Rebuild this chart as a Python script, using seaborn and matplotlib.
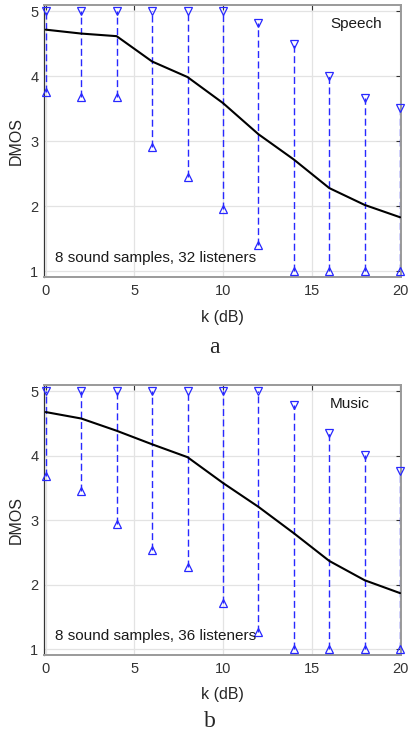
import matplotlib
matplotlib.use("Agg")
import matplotlib.pyplot as plt
import seaborn as sns
import numpy as np
import pandas as pd

k_db = [0, 2, 4, 6, 8, 10, 12, 14, 16, 18, 20]

speech_mean = [4.72, 4.66, 4.62, 4.23, 3.99, 3.59, 3.11, 2.72, 2.28, 2.02, 1.83]
speech_max = [5.0, 5.0, 5.0, 5.0, 5.0, 5.0, 4.82, 4.50, 4.00, 3.66, 3.51]
speech_min = [3.76, 3.68, 3.68, 2.92, 2.45, 1.95, 1.40, 1.0, 1.0, 1.0, 1.0]

music_mean = [4.68, 4.58, 4.39, 4.18, 3.98, 3.58, 3.21, 2.80, 2.37, 2.07, 1.87]
music_max = [5.0, 5.0, 5.0, 5.0, 5.0, 5.0, 5.0, 4.79, 4.36, 4.02, 3.76]
music_min = [3.69, 3.46, 2.94, 2.54, 2.28, 1.72, 1.26, 1.0, 1.0, 1.0, 1.0]

x_ticks = [0, 5, 10, 15, 20]
y_ticks = [1, 2, 3, 4, 5]

panels = [
    ("Speech", "8 sound samples, 32 listeners", speech_mean, speech_max, speech_min, "a"),
    ("Music", "8 sound samples, 36 listeners", music_mean, music_max, music_min, "b"),
]

sns.set_style("white")
plt.rcParams['font.family'] = ['Liberation Sans', 'DejaVu Sans']

W, H = 408, 733
fig = plt.figure(figsize=(W / 100, H / 100), dpi=100)

# axes boxes in pixels: (left, top, right, bottom)
boxes = [(44, 5, 401, 277), (44, 385, 401, 655)]
letter_pos = [(214, 353), (210, 727)]

blue = "#2828ff"

for (name, note, mean, mx, mn, letter), (l, t, r, b), (lx, ly) in zip(panels, boxes, letter_pos):
    ax = fig.add_axes([l / W, 1 - b / H, (r - l) / W, (b - t) / H])
    df = pd.DataFrame({"k": k_db, "mean": mean, "max": mx, "min": mn})

    ax.grid(True, color="#e3e3e3", lw=0.9, zorder=0)
    ax.set_axisbelow(True)

    ax.vlines(df["k"], df["min"], df["max"], colors=blue, linestyles=(0, (5, 2.5)),
              lw=1.0, zorder=2)
    ax.plot(df["k"], df["max"], ls="none", marker="v", ms=6, mfc="none",
            mec=blue, mew=0.9, zorder=3, clip_on=False)
    ax.plot(df["k"], df["min"], ls="none", marker="^", ms=6, mfc="none",
            mec=blue, mew=0.9, zorder=3, clip_on=False)
    sns.lineplot(data=df, x="k", y="mean", color="black", lw=1.5, ax=ax, zorder=4)

    ax.set_xlim(-0.1, 20.05)
    ax.set_ylim(0.91, 5.1)
    ax.set_xticks(x_ticks)
    ax.set_yticks(y_ticks)
    ax.tick_params(direction="in", length=3.5, width=0.8, colors="#333333",
                   labelsize=10.5, top=True, right=True)
    ax.tick_params(axis="x", pad=5)
    ax.tick_params(axis="y", pad=4)
    for s in ["top", "right", "bottom"]:
        ax.spines[s].set_color("#9a9a9a")
        ax.spines[s].set_linewidth(1.4)
    ax.spines["left"].set_color("#333333")
    ax.spines["left"].set_linewidth(0.9)

    ax.set_xlabel("k (dB)", fontsize=11.5, color="#262626")
    ax.set_ylabel("DMOS", fontsize=11.5, color="#262626")
    ax.xaxis.set_label_coords(0.5, -0.12)
    ax.yaxis.set_label_coords(-0.058, 0.5)

    ax.text(16.05, 4.8, name, fontsize=11, ha="left", va="center", color="#1a1a1a")
    ax.text(0.5, 1.2, note, fontsize=11, ha="left", va="center", color="#1a1a1a")

    fig.text(lx / W, 1 - ly / H, letter, fontsize=17, ha="center", va="baseline",
             family=["Liberation Serif", "DejaVu Serif"])

fig.savefig("out.png", dpi=100)
